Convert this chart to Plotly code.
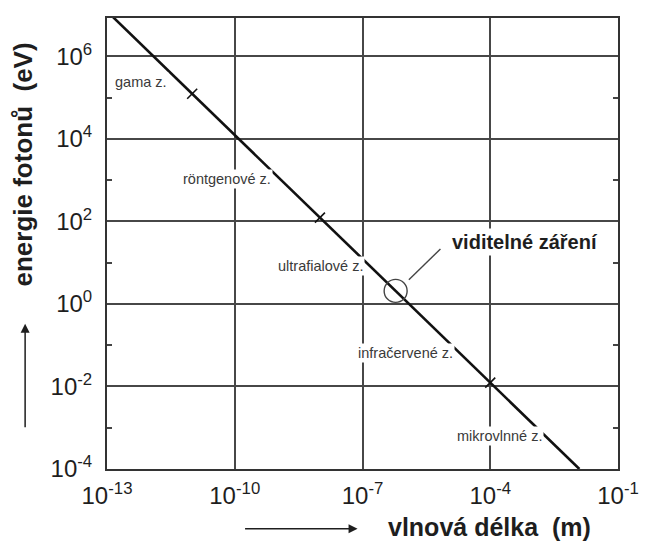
import plotly.graph_objects as go

# ---- data ----
line_wavelength = [1.24e-13, 1.24e-2]   # m
line_energy = [1e7, 1e-4]               # eV
boundary_wavelength = [1e-11, 1e-8, 1e-4]
boundary_energy = [1.24e5, 1.24e2, 1.24e-2]
visible_wavelength = [6e-7]
visible_energy = [2.07]

x_tickvals = [1e-13, 1e-10, 1e-7, 1e-4, 1e-1]
x_ticktext = ["10<sup>-13</sup>", "10<sup>-10</sup>", "10<sup>-7</sup>", "10<sup>-4</sup>", "10<sup>-1</sup>"]
y_tickvals = [1e-4, 1e-2, 1e0, 1e2, 1e4, 1e6]
y_ticktext = ["10<sup>-4</sup>", "10<sup>-2</sup>", "10<sup>0</sup>", "10<sup>2</sup>", "10<sup>4</sup>", "10<sup>6</sup>"]
y_minor = [1e-3, 1e-1, 1e1, 1e3, 1e5]

region_labels = ["gama z.", "röntgenové z.", "ultrafialové z.", "infračervené z.", "mikrovlnné z."]
visible_label = "viditelné záření"
x_title = "vlnová délka  (m)"
y_title = "energie fotonů  (eV)"

# ---- layout geometry (page pixels; the page body has an 8px margin) ----
PAGE_W, PAGE_H = 647, 541
OFF = 8
W, H = PAGE_W - OFF, PAGE_H - OFF
L, R, T, B = 107, 625, 16, 469


def px(x):
    return (x - L) / (R - L)


def py(y):
    return (B - y) / (B - T)


FONT = "Liberation Sans, Arial, sans-serif"
INK = "#1e1e1e"
GRID = "#474747"

fig = go.Figure()
fig.add_trace(go.Scatter(x=line_wavelength, y=line_energy, mode="lines",
                         line=dict(color="#111111", width=2.6), hoverinfo="skip"))
fig.add_trace(go.Scatter(x=boundary_wavelength, y=boundary_energy, mode="markers",
                         marker=dict(symbol="line-ne", size=10, color="#111111",
                                     line=dict(color="#111111", width=1.6)),
                         hoverinfo="skip"))
fig.add_trace(go.Scatter(x=visible_wavelength, y=visible_energy, mode="markers",
                         marker=dict(symbol="circle-open", size=23, color="#444444",
                                     line=dict(color="#444444", width=1.4)),
                         hoverinfo="skip"))

label_pos = [(141, 80), (229, 178), (323, 265), (410, 352), (505, 436)]
for txt, (x, y) in zip(region_labels, label_pos):
    fig.add_annotation(xref="paper", yref="paper", x=px(x), y=py(y), text=txt,
                       xanchor="center", yanchor="middle",
                       showarrow=False, font=dict(family=FONT, size=14.5, color="#3a3a3a"),
                       bgcolor="white", borderpad=1)

fig.add_annotation(xref="paper", yref="paper", x=px(531), y=py(241), text="<b>" + visible_label + "</b>",
                   xanchor="center", yanchor="middle",
                   showarrow=False, font=dict(family=FONT, size=20, color=INK),
                   bgcolor="white", borderpad=2)
fig.add_shape(type="line", xref="paper", yref="paper",
              x0=px(413), y0=py(279), x1=px(445), y1=py(248),
              line=dict(color="#444444", width=1.4))

# axis titles
fig.add_annotation(xref="paper", yref="paper", x=px(495), y=py(527), text="<b>" + x_title + "</b>",
                   xanchor="center", yanchor="middle",
                   showarrow=False, font=dict(family=FONT, size=25, color=INK))
fig.add_annotation(xref="paper", yref="paper", x=px(22), y=py(163), text="<b>" + y_title + "</b>",
                   xanchor="center", yanchor="middle",
                   textangle=-90, showarrow=False, font=dict(family=FONT, size=26, color=INK))
# arrows
fig.add_annotation(xref="paper", yref="paper", x=px(361), y=py(529), ax=-114, ay=0, text="",
                   showarrow=True, arrowhead=2, arrowsize=1.2, arrowwidth=1.5, arrowcolor=INK)
fig.add_annotation(xref="paper", yref="paper", x=px(24), y=py(323), ax=0, ay=105, text="",
                   showarrow=True, arrowhead=2, arrowsize=1.2, arrowwidth=1.5, arrowcolor=INK)

fig.update_xaxes(type="log", range=[-13, -1], tickvals=x_tickvals, ticktext=x_ticktext,
                 showgrid=True, gridcolor=GRID, gridwidth=1.5, ticks="",
                 showline=True, linecolor="#333333", linewidth=2, mirror=True,
                 zeroline=False, tickfont=dict(family=FONT, size=24, color=INK),
                 ticklabelstandoff=4)
fig.update_yaxes(type="log", range=[-4, 6.93], tickvals=y_tickvals, ticktext=y_ticktext,
                 showgrid=True, gridcolor=GRID, gridwidth=1.5, ticks="",
                 showline=True, linecolor="#333333", linewidth=2, mirror="allticks",
                 zeroline=False, tickfont=dict(family=FONT, size=24, color=INK),
                 ticklabelstandoff=8,
                 minor=dict(tickvals=y_minor, ticks="inside", ticklen=5, tickwidth=1.5,
                            tickcolor="#444444", showgrid=False))

fig.update_layout(width=W, height=H,
                  margin=dict(l=L - OFF, r=PAGE_W - R, t=T - OFF, b=PAGE_H - B),
                  paper_bgcolor="white", plot_bgcolor="white", showlegend=False)

fig.write_html("out.html")
